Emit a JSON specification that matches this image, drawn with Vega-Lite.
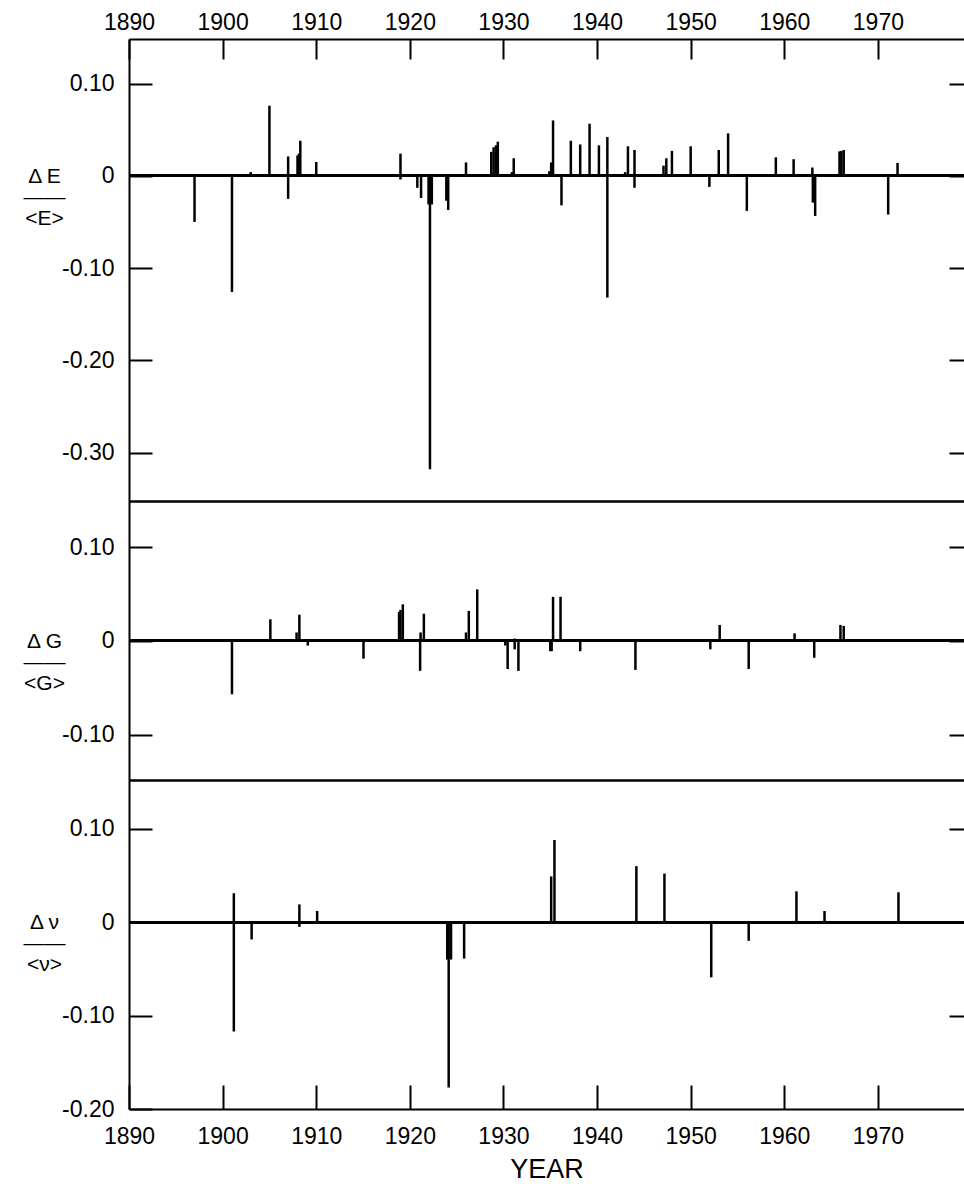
{
  "$schema": "https://vega.github.io/schema/vega-lite/v6.json",
  "padding": {"left": 23, "top": 11, "right": 0, "bottom": 0},
  "spacing": 0,
  "background": "white",
  "config": {
    "view": {"stroke": null},
    "font": "Liberation Sans",
    "axis": {
      "labelFont": "Liberation Sans",
      "titleFont": "Liberation Sans",
      "labelColor": "black",
      "titleColor": "black",
      "tickColor": "black",
      "domainColor": "black",
      "tickWidth": 2,
      "domainWidth": 2,
      "grid": false,
      "labelFontWeight": "normal",
      "titleFontWeight": "normal"
    }
  },
  "datasets": {
    "E": [
      {"year": 1897.0, "value": -0.050},
      {"year": 1901.0, "value": -0.126},
      {"year": 1903.0, "value": 0.004},
      {"year": 1905.0, "value": 0.076},
      {"year": 1907.0, "value": 0.021},
      {"year": 1907.0, "value": -0.025},
      {"year": 1908.0, "value": 0.022},
      {"year": 1908.15, "value": 0.024},
      {"year": 1908.3, "value": 0.038},
      {"year": 1910.0, "value": 0.015},
      {"year": 1919.0, "value": 0.024},
      {"year": 1919.0, "value": -0.004},
      {"year": 1920.8, "value": -0.013},
      {"year": 1921.2, "value": -0.024},
      {"year": 1922.0, "value": -0.031},
      {"year": 1922.15, "value": -0.318},
      {"year": 1922.35, "value": -0.031},
      {"year": 1923.9, "value": -0.027},
      {"year": 1924.1, "value": -0.037},
      {"year": 1926.0, "value": 0.0145},
      {"year": 1928.7, "value": 0.026},
      {"year": 1928.95, "value": 0.031},
      {"year": 1929.2, "value": 0.033},
      {"year": 1929.4, "value": 0.037},
      {"year": 1930.9, "value": 0.004},
      {"year": 1931.1, "value": 0.019},
      {"year": 1934.9, "value": 0.005},
      {"year": 1935.1, "value": 0.0145},
      {"year": 1935.3, "value": 0.060},
      {"year": 1936.2, "value": -0.032},
      {"year": 1937.2, "value": 0.038},
      {"year": 1938.2, "value": 0.034},
      {"year": 1939.2, "value": 0.0565},
      {"year": 1940.2, "value": 0.033},
      {"year": 1941.1, "value": 0.042},
      {"year": 1941.1, "value": -0.132},
      {"year": 1943.0, "value": 0.004},
      {"year": 1943.3, "value": 0.032},
      {"year": 1944.0, "value": 0.028},
      {"year": 1944.0, "value": -0.013},
      {"year": 1947.1, "value": 0.011},
      {"year": 1947.4, "value": 0.019},
      {"year": 1948.0, "value": 0.027},
      {"year": 1950.0, "value": 0.032},
      {"year": 1952.0, "value": -0.012},
      {"year": 1953.0, "value": 0.028},
      {"year": 1954.0, "value": 0.046},
      {"year": 1956.0, "value": -0.038},
      {"year": 1959.1, "value": 0.020},
      {"year": 1961.0, "value": 0.018},
      {"year": 1963.0, "value": 0.009},
      {"year": 1963.05, "value": -0.029},
      {"year": 1963.3, "value": -0.0435},
      {"year": 1965.9, "value": 0.0265},
      {"year": 1966.1, "value": 0.027},
      {"year": 1966.35, "value": 0.028},
      {"year": 1971.1, "value": -0.042},
      {"year": 1972.1, "value": 0.014}
    ],
    "G": [
      {"year": 1901.0, "value": -0.057},
      {"year": 1905.1, "value": 0.023},
      {"year": 1907.9, "value": 0.009},
      {"year": 1908.2, "value": 0.028},
      {"year": 1909.1, "value": -0.005},
      {"year": 1915.05, "value": -0.019},
      {"year": 1918.85, "value": 0.031},
      {"year": 1919.0, "value": 0.033},
      {"year": 1919.25, "value": 0.039},
      {"year": 1921.0, "value": 0.002},
      {"year": 1921.1, "value": -0.032},
      {"year": 1921.15, "value": 0.009},
      {"year": 1921.5, "value": 0.029},
      {"year": 1926.0, "value": 0.009},
      {"year": 1926.3, "value": 0.032},
      {"year": 1927.2, "value": 0.055},
      {"year": 1930.2, "value": -0.005},
      {"year": 1930.45, "value": -0.030},
      {"year": 1931.2, "value": 0.0025},
      {"year": 1931.2, "value": -0.009},
      {"year": 1931.6, "value": -0.032},
      {"year": 1935.0, "value": -0.011},
      {"year": 1935.15, "value": -0.011},
      {"year": 1935.3, "value": 0.047},
      {"year": 1936.1, "value": 0.047},
      {"year": 1938.2, "value": -0.011},
      {"year": 1944.1, "value": -0.031},
      {"year": 1947.1, "value": 0.001},
      {"year": 1952.1, "value": -0.009},
      {"year": 1953.1, "value": 0.017},
      {"year": 1956.2, "value": -0.030},
      {"year": 1961.1, "value": 0.008},
      {"year": 1963.2, "value": -0.018},
      {"year": 1966.0, "value": 0.017},
      {"year": 1966.35, "value": 0.016},
      {"year": 1972.2, "value": 0.001}
    ],
    "V": [
      {"year": 1901.2, "value": 0.031},
      {"year": 1901.2, "value": -0.117},
      {"year": 1903.1, "value": -0.0185},
      {"year": 1908.2, "value": 0.019},
      {"year": 1908.2, "value": -0.005},
      {"year": 1910.1, "value": 0.012},
      {"year": 1924.0, "value": -0.040},
      {"year": 1924.15, "value": -0.177},
      {"year": 1924.4, "value": -0.040},
      {"year": 1925.8, "value": -0.039},
      {"year": 1935.1, "value": 0.049},
      {"year": 1935.45, "value": 0.088},
      {"year": 1944.2, "value": 0.060},
      {"year": 1947.2, "value": 0.052},
      {"year": 1952.2, "value": -0.059},
      {"year": 1956.2, "value": -0.020},
      {"year": 1961.3, "value": 0.033},
      {"year": 1964.3, "value": 0.012},
      {"year": 1972.2, "value": 0.032}
    ]
  },
  "vconcat": [
    {
      "width": 835,
      "height": 462,
      "data": {"name": "E"},
      "resolve": {"axis": {"x": "independent", "y": "independent"}},
      "layer": [
        {
          "mark": {"type": "rule", "strokeWidth": 2.5, "color": "black"},
          "encoding": {
            "x": {
              "field": "year", "type": "quantitative",
              "scale": {"domain": [1890, 1979.2], "nice": false, "zero": false},
              "axis": {"orient": "top", "values": [1890, 1900, 1910, 1920, 1930, 1940, 1950, 1960, 1970], "format": "d", "labelFontSize": 23, "tickSize": -20, "labelPadding": 30, "labelBaseline": "alphabetic", "domain": true, "title": null, "labelFlush": false, "labelOverlap": false}
            },
            "y": {
              "field": "value", "type": "quantitative",
              "scale": {"domain": [-0.3525, 0.1483], "nice": false, "zero": false},
              "axis": {"orient": "left", "values": [0.1, 0, -0.1, -0.2, -0.3], "labelExpr": "datum.value == 0 ? '0' : replace(format(datum.value, '.2f'), '\u2212', '-')", "tickSize": -23, "labelPadding": 38, "labelFontSize": 23, "domain": true, "labelFlush": false, "labelOverlap": false,
                "title": ["\u0394 E", "\u2014\u2014", "<E>"], "titleAngle": 0, "titleX": -85, "titleY": 137, "titleAlign": "center", "titleBaseline": "middle", "titleFontSize": 21, "titleLineHeight": 21}
            },
            "y2": {"datum": 0}
          }
        },
        {
          "mark": {"type": "rule", "strokeWidth": 2, "color": "black"},
          "encoding": {
            "x": {"datum": 1890, "type": "quantitative", "scale": {"domain": [1890, 1979.2], "nice": false, "zero": false},
              "axis": {"orient": "bottom", "ticks": false, "labels": false, "domain": true, "title": null}},
            "x2": {"datum": 1979.2},
            "y": {"datum": 0, "type": "quantitative", "scale": {"domain": [-0.3525, 0.1483], "nice": false, "zero": false},
              "axis": {"orient": "right", "values": [0.1, 0, -0.1, -0.2, -0.3], "labels": false, "tickSize": -15, "domain": false, "title": null}}
          }
        }
      ]
    },
    {
      "width": 835,
      "height": 279,
      "data": {"name": "G"},
      "resolve": {"axis": {"x": "independent", "y": "independent"}},
      "layer": [
        {
          "mark": {"type": "rule", "strokeWidth": 2.5, "color": "black"},
          "encoding": {
            "x": {
              "field": "year", "type": "quantitative",
              "scale": {"domain": [1890, 1979.2], "nice": false, "zero": false},
              "axis": {"orient": "bottom", "ticks": false, "labels": false, "domain": true, "title": null}
            },
            "y": {
              "field": "value", "type": "quantitative",
              "scale": {"domain": [-0.1485, 0.1493], "nice": false, "zero": false},
              "axis": {"orient": "left", "values": [0.1, 0, -0.1], "labelExpr": "datum.value == 0 ? '0' : replace(format(datum.value, '.2f'), '\u2212', '-')", "tickSize": -23, "labelPadding": 38, "labelFontSize": 23, "domain": true, "labelFlush": false, "labelOverlap": false,
                "title": ["\u0394 G", "\u2014\u2014", "<G>"], "titleAngle": 0, "titleX": -85, "titleY": 140, "titleAlign": "center", "titleBaseline": "middle", "titleFontSize": 21, "titleLineHeight": 21}
            },
            "y2": {"datum": 0}
          }
        },
        {
          "mark": {"type": "rule", "strokeWidth": 2, "color": "black"},
          "encoding": {
            "x": {"datum": 1890, "type": "quantitative", "scale": {"domain": [1890, 1979.2], "nice": false, "zero": false},
              "axis": {"orient": "top", "ticks": false, "labels": false, "domain": true, "title": null}},
            "x2": {"datum": 1979.2},
            "y": {"datum": 0, "type": "quantitative", "scale": {"domain": [-0.1485, 0.1493], "nice": false, "zero": false},
              "axis": {"orient": "right", "values": [0.1, 0, -0.1], "labels": false, "tickSize": -15, "domain": false, "title": null}}
          }
        }
      ]
    },
    {
      "width": 835,
      "height": 329,
      "data": {"name": "V"},
      "resolve": {"axis": {"x": "independent", "y": "independent"}},
      "layer": [
        {
          "mark": {"type": "rule", "strokeWidth": 2.5, "color": "black"},
          "encoding": {
            "x": {
              "field": "year", "type": "quantitative",
              "scale": {"domain": [1890, 1979.2], "nice": false, "zero": false},
              "axis": {"orient": "bottom", "values": [1890, 1900, 1910, 1920, 1930, 1940, 1950, 1960, 1970], "format": "d", "labelFontSize": 23, "tickSize": -24, "labelPadding": 58, "labelBaseline": "alphabetic", "domain": true, "labelFlush": false, "labelOverlap": false,
                "title": "YEAR", "titleFontSize": 27, "titlePadding": 8}
            },
            "y": {
              "field": "value", "type": "quantitative",
              "scale": {"domain": [-0.2, 0.1522], "nice": false, "zero": false},
              "axis": {"orient": "left", "values": [0.1, 0, -0.1, -0.2], "labelExpr": "datum.value == 0 ? '0' : replace(format(datum.value, '.2f'), '\u2212', '-')", "tickSize": -23, "labelPadding": 38, "labelFontSize": 23, "domain": true, "labelFlush": false, "labelOverlap": false,
                "title": ["\u0394 \u03bd", "\u2014\u2014", "<\u03bd>"], "titleAngle": 0, "titleX": -85, "titleY": 142, "titleAlign": "center", "titleBaseline": "middle", "titleFontSize": 21, "titleLineHeight": 21}
            },
            "y2": {"datum": 0}
          }
        },
        {
          "mark": {"type": "rule", "strokeWidth": 2, "color": "black"},
          "encoding": {
            "x": {"datum": 1890, "type": "quantitative", "scale": {"domain": [1890, 1979.2], "nice": false, "zero": false},
              "axis": {"orient": "top", "ticks": false, "labels": false, "domain": true, "title": null}},
            "x2": {"datum": 1979.2},
            "y": {"datum": 0, "type": "quantitative", "scale": {"domain": [-0.2, 0.1522], "nice": false, "zero": false},
              "axis": {"orient": "right", "values": [0.1, 0, -0.1], "labels": false, "tickSize": -15, "domain": false, "title": null}}
          }
        }
      ]
    }
  ]
}
